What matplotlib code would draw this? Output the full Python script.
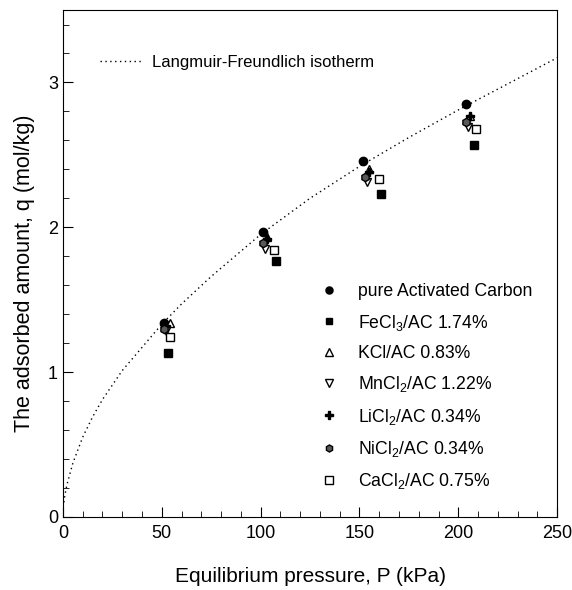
import matplotlib.pyplot as plt
from matplotlib.ticker import MultipleLocator

plt.rcParams['font.family'] = ['Liberation Sans', 'DejaVu Sans']
plt.rcParams['mathtext.fontset'] = 'custom'
plt.rcParams['mathtext.rm'] = 'Liberation Sans'

# Langmuir-Freundlich Kurve (Punkte)
curve_p = [0.5, 1, 2, 5, 10, 15, 20, 30, 40, 50, 60, 75, 100, 125, 150, 175, 200, 225, 250]
curve_q = [0.10, 0.15, 0.22, 0.37, 0.55, 0.69, 0.81, 1.01, 1.17, 1.33, 1.47, 1.66, 1.95, 2.20, 2.42, 2.62, 2.81, 2.99, 3.17]

# Messpunkte
labels = ['pure Activated Carbon', r'FeCl$\mathregular{_3}$/AC 1.74%', 'KCl/AC 0.83%',
          r'MnCl$\mathregular{_2}$/AC 1.22%', r'LiCl$\mathregular{_2}$/AC 0.34%',
          r'NiCl$\mathregular{_2}$/AC 0.34%', r'CaCl$\mathregular{_2}$/AC 0.75%']
p_ac = [51, 101, 152, 204]
q_ac = [1.34, 1.97, 2.46, 2.85]
p_fe = [53, 108, 161, 208]
q_fe = [1.13, 1.77, 2.23, 2.57]
p_k = [54, 103, 155, 206]
q_k = [1.34, 1.93, 2.40, 2.77]
p_mn = [52, 102, 154, 205]
q_mn = [1.28, 1.85, 2.31, 2.69]
p_li = [52, 103, 155, 206]
q_li = [1.32, 1.92, 2.38, 2.77]
p_ni = [51, 101, 153, 204]
q_ni = [1.30, 1.89, 2.35, 2.73]
p_ca = [54, 107, 160, 209]
q_ca = [1.24, 1.84, 2.33, 2.68]

fig = plt.figure(figsize=(5.72, 5.90), dpi=100)
ax = fig.add_axes([0.110, 0.124, 0.864, 0.859])

line, = ax.plot(curve_p, curve_q, color='black', linestyle=(0, (1, 2.5)), linewidth=1.0)

styles = [
    dict(marker='o', mfc='black', ms=6),
    dict(marker='s', mfc='black', ms=5.5),
    dict(marker='^', mfc='white', ms=6),
    dict(marker='v', mfc='white', ms=6),
    dict(marker='P', mfc='black', ms=6),
    dict(marker='h', mfc='0.35', ms=6),
    dict(marker='s', mfc='white', ms=6),
]
data = [(p_ac, q_ac), (p_fe, q_fe), (p_k, q_k), (p_mn, q_mn), (p_li, q_li), (p_ni, q_ni), (p_ca, q_ca)]
handles = []
for (px, qy), st, lab in zip(data, styles, labels):
    h, = ax.plot(px, qy, linestyle='none', color='black', mec='black', mew=1.0, label=lab, **st)
    handles.append(h)

ax.set_xlim(0, 250)
ax.set_ylim(0, 3.5)
ax.xaxis.set_major_locator(MultipleLocator(50))
ax.xaxis.set_minor_locator(MultipleLocator(10))
ax.yaxis.set_major_locator(MultipleLocator(1))
ax.yaxis.set_minor_locator(MultipleLocator(0.2))
ax.tick_params(which='both', direction='in', top=False, right=False, labelsize=13)
ax.tick_params(which='major', length=7)
ax.tick_params(which='minor', length=4)
ax.tick_params(axis='x', pad=6)

ax.set_xlabel('Equilibrium pressure, P (kPa)', fontsize=15, labelpad=18)
ax.set_ylabel('The adsorbed amount, q (mol/kg)', fontsize=15.5)
ax.yaxis.set_label_coords(-0.057, 0.48)

leg1 = ax.legend([line], ['Langmuir-Freundlich isotherm'], loc='upper left',
                 bbox_to_anchor=(0.075, 0.912), frameon=False, fontsize=12,
                 handlelength=2.45, handletextpad=0.65, borderpad=0, borderaxespad=0)
ax.add_artist(leg1)
ax.legend(handles=handles, loc='upper left', bbox_to_anchor=(0.517, 0.461),
          frameon=False, fontsize=12.7, labelspacing=0.7, handlelength=1.2,
          handletextpad=1.05, borderpad=0, borderaxespad=0, markerscale=0.85)

plt.savefig('out.png', dpi=100)
